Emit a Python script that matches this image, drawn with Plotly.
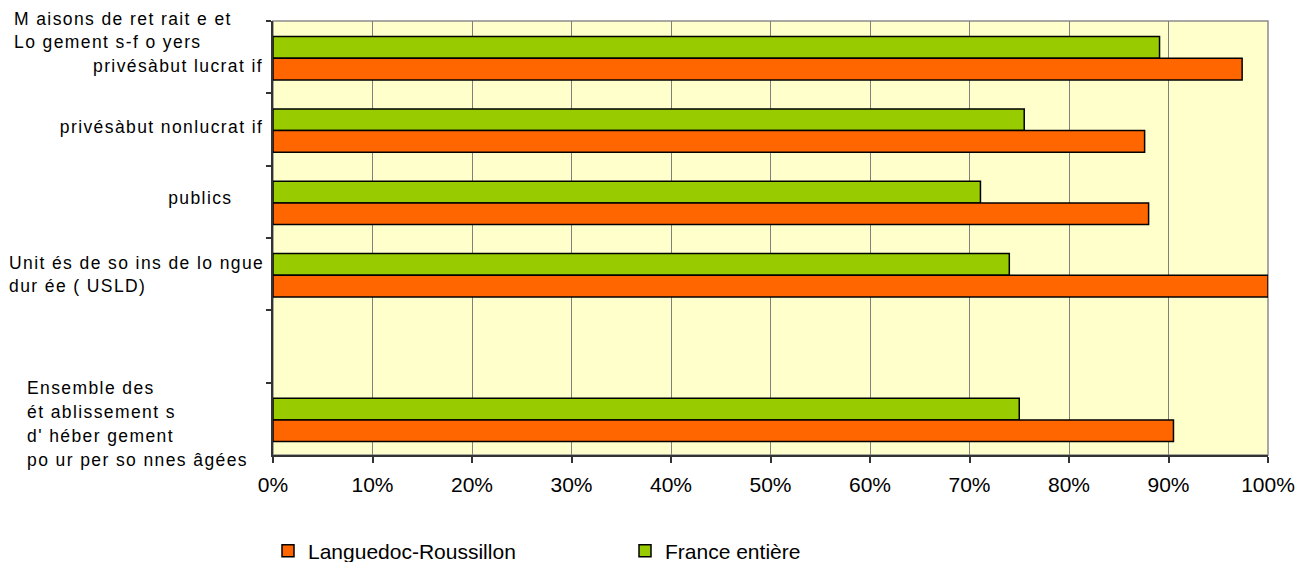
import plotly.graph_objects as go

# Taux d'occupation par catégorie d'établissement (en %)
categories = [
    "Maisons de retraite et Logements-foyers privés à but lucratif",
    "privés à but non lucratif",
    "publics",
    "Unités de soins de longue durée (USLD)",
    "\u00a0",
    "Ensemble des établissements d'hébergement pour personnes âgées",
]
languedoc = [97.4, 87.6, 88.0, 100.0, None, 90.5]
france = [89.1, 75.5, 71.1, 74.0, None, 75.0]

x_ticks = list(range(0, 101, 10))
x_tick_labels = [f"{v}%" for v in x_ticks]

# Category labels, line by line: (text, x px, y px, anchor)
label_lines = [
    ("M aisons de ret rait e et", 12, 19, "left"),
    ("Lo gement s-f o yers", 12, 42, "left"),
    ("privésàbut lucrat if", 265, 66, "right"),
    ("privésàbut nonlucrat if", 265, 127, "right"),
    ("publics", 235, 198, "right"),
    ("Unit és de so ins de lo ngue", 7, 263, "left"),
    ("dur ée ( USLD)", 7, 286, "left"),
    ("Ensemble des", 25, 388, "left"),
    ("ét ablissement s", 25, 412, "left"),
    ("d' héber gement", 25, 436, "left"),
    ("po ur per so nnes âgées", 25, 460, "left"),
]

W, H = 1296, 562
L, R, T, B = 273, 28, 21, 107
PW, PH = W - L - R, H - T - B


def paper_x(px):
    return (px - L) / PW


def paper_y(py):
    return (H - B - py) / PH


ORANGE = "#FF6600"
GREEN = "#99CC00"
FONT = "Liberation Sans, Arial, sans-serif"

fig = go.Figure()
fig.add_trace(go.Bar(
    y=categories, x=france, orientation="h", name="France entière",
    marker=dict(color=GREEN, line=dict(color="#000000", width=1.5)),
    width=0.3, offset=-0.285, legendrank=2,
))
fig.add_trace(go.Bar(
    y=categories, x=languedoc, orientation="h", name="Languedoc-Roussillon",
    marker=dict(color=ORANGE, line=dict(color="#000000", width=1.5)),
    width=0.3, offset=0.015, legendrank=1,
))

annotations = [
    dict(text=t, x=paper_x(px), y=paper_y(py), xref="paper", yref="paper",
         xanchor=a, yanchor="middle", align=a, showarrow=False,
         font=dict(family=FONT, size=17.5, color="#000000"))
    for t, px, py, a in label_lines
]

fig.update_layout(
    width=W, height=H,
    margin=dict(l=L, r=R, t=T, b=B, autoexpand=False),
    paper_bgcolor="#FFFFFF",
    plot_bgcolor="#FFFFCC",
    barmode="group",
    font=dict(family=FONT, size=21, color="#000000"),
    xaxis=dict(
        range=[0, 100], tickvals=x_ticks, ticktext=x_tick_labels,
        showgrid=True, gridcolor="#808080", gridwidth=1.2,
        showline=True, linecolor="#333333", linewidth=1.5,
        ticks="outside", ticklen=6, tickcolor="#333333", tickwidth=1.5,
        ticklabelstandoff=4,
        zeroline=False, fixedrange=True, automargin=False,
    ),
    yaxis=dict(
        type="category", categoryorder="array", categoryarray=categories,
        range=[5.5, -0.5], showticklabels=False, showgrid=False,
        showline=True, linecolor="#333333", linewidth=1.5,
        ticks="outside", ticklen=5, tickcolor="#333333", tickwidth=1.5,
        tickson="boundaries", zeroline=False, fixedrange=True, automargin=False,
    ),
    shapes=[dict(type="rect", xref="paper", yref="paper", x0=0, x1=1, y0=0, y1=1,
                 line=dict(color="#8C8C8C", width=1.5), layer="below")],
    legend=dict(
        orientation="h", xref="container", yref="container",
        x=268 / W, y=(H - 551) / H, xanchor="left", yanchor="middle",
        font=dict(family=FONT, size=21, color="#000000"), entrywidth=312,
        bgcolor="rgba(0,0,0,0)",
    ),
    annotations=annotations,
)

# Wide tracking on the category labels
post = """
var gd = document.getElementById('{plot_id}');
function track() {
  gd.querySelectorAll('.annotation-text').forEach(function (t) {
    t.style.letterSpacing = '1.4px';
  });
}
track();
if (gd.on) { gd.on('plotly_afterplot', track); }
"""
fig.write_html("out.html", post_script=post)
